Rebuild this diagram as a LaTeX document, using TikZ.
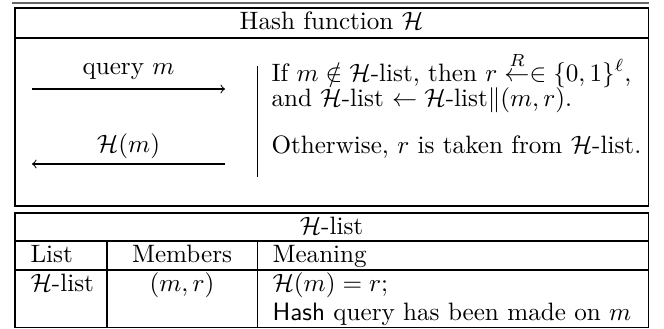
\documentclass[tikz,border=0pt]{standalone}
\usepackage{amssymb}
\usepackage{amsmath}
\usepackage{tikz}
\usetikzlibrary{arrows,positioning}
\tikzset{
      frame/.style   = {black, line width=0.4pt},
      msgarrow/.style = {black, line width=0.4pt, ->, >=to},
      txt/.style = {inner sep=0pt, anchor=base west},
      ctxt/.style = {inner sep=0pt, anchor=base},
    }

\begin{document}
\begin{tikzpicture}[x=0.398pt, y=-0.398pt]
        \useasboundingbox (0,0) rectangle (664,329);
        % oracle box
        \draw[gray!80!black, line width=0.8pt] (12,3) -- (649,3);
        \draw[frame] (15,8) rectangle (648,206);
        \draw[frame] (15,38) -- (648,38);
        \node[ctxt] (title) at (331.5,30) {Hash function $\mathcal{H}$};

        \coordinate (qs) at (32,89);
        \coordinate (qe) at (225,89);
        \coordinate (as) at (225,164);
        \coordinate (ae) at (32,164);
        \path (qs) edge[msgarrow] node[above=0pt] (qlabel) {query $m$} (qe);
        \path (as) edge[msgarrow] node[above=-1.5pt] (alabel) {$\mathcal{H}(m)$} (ae);

        \coordinate (bartop) at (257,66);
        \coordinate (barbot) at (257,177);
        \draw[frame] (bartop) -- (barbot);
        \node[txt] (rule1) at (271,81) {If $m \notin \mathcal{H}$-list, then $r \stackrel{R}{\leftarrow}\in \{0,1\}^{\ell}$,};
        \node[txt] (rule2) at (271,107) {and $\mathcal{H}$-list $\leftarrow \mathcal{H}$-list$\|(m,r)$.};
        \node[txt] (rule3) at (271,153) {Otherwise, $r$ is taken from $\mathcal{H}$-list.};

        % list table
        \draw[frame] (15,213) rectangle (648,327);
        \draw[frame] (15,241) -- (648,241);
        \draw[frame] (15,270) -- (648,270);
        \draw[frame] (107,241) -- (107,327);
        \draw[frame] (257,241) -- (257,327);
        \node[ctxt] (ltitle) at (331.5,234) {$\mathcal{H}$-list};
        \node[txt] (hlist) at (30,262) {List};
        \node[ctxt] (hmem) at (182,262) {Members};
        \node[txt] (hmean) at (272,262) {Meaning};
        \node[txt] (clist) at (30,291) {$\mathcal{H}$-list};
        \node[ctxt] (cmem) at (182,291) {$(m,r)$};
        \node[txt] (cmean1) at (272,291) {$\mathcal{H}(m) = r$;};
        \node[txt] (cmean2) at (272,320) {\textsf{Hash} query has been made on $m$};
\end{tikzpicture}
\end{document}
